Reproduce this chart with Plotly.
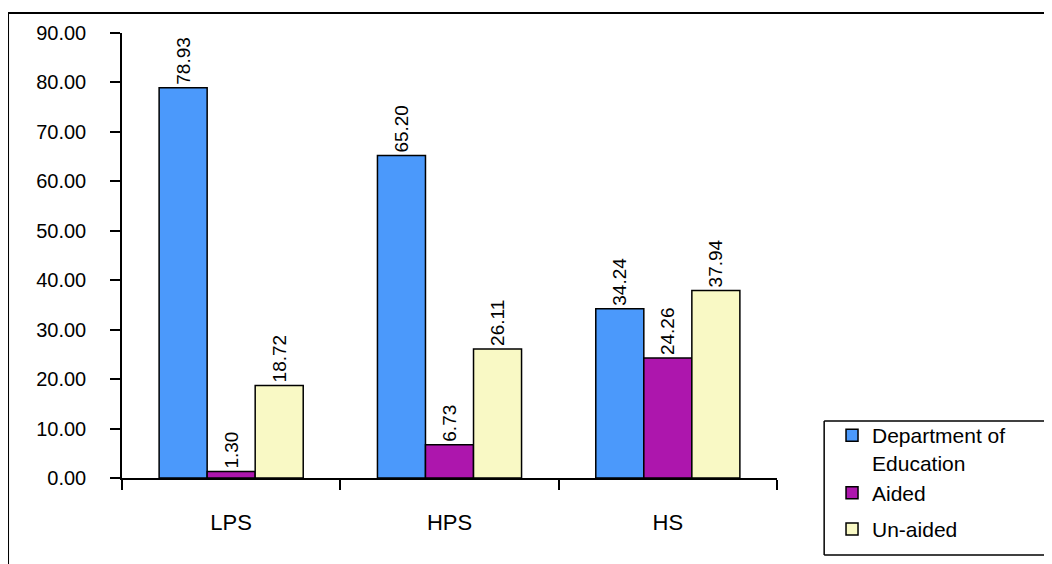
import plotly.graph_objects as go

categories = ["LPS", "HPS", "HS"]
dept_education = [78.93, 65.20, 34.24]
aided = [1.30, 6.73, 24.26]
unaided = [18.72, 26.11, 37.94]
y_ticks = [0, 10, 20, 30, 40, 50, 60, 70, 80, 90]

series = [
    ("Department of<br>Education", dept_education, "#4B99FB", "a"),
    ("Aided", aided, "#AD16AD", "a"),
    ("Un-aided", unaided, "#F9F9C5", "b"),
]

fig = go.Figure()
for name, vals, color, grp in series:
    fig.add_trace(go.Bar(
        x=categories, y=vals, name=name, legendgroup=grp,
        marker=dict(color=color, line=dict(color="black", width=1.5)),
        text=[f"{v:.2f}" for v in vals],
        textposition="outside", textangle=-90,
        textfont=dict(family="Liberation Sans, Arial", size=19, color="black"),
        cliponaxis=False,
    ))

box_line = dict(color="black", width=1.5)
fig.update_layout(
    width=1052, height=564,
    margin=dict(l=114, r=283, t=25, b=94, autoexpand=False),
    paper_bgcolor="white", plot_bgcolor="white",
    barmode="group", bargap=0.34, bargroupgap=0,
    font=dict(family="Liberation Sans, Arial", color="black"),
    showlegend=True,
    legend=dict(
        x=1.084, y=0.1415, xanchor="left", yanchor="top",
        borderwidth=0, bgcolor="rgba(0,0,0,0)",
        font=dict(size=21, family="Liberation Sans, Arial", color="black"),
        valign="top", tracegroupgap=6,
        groupclick="toggleitem",
    ),
    shapes=[
        dict(type="line", xref="paper", yref="paper",
             x0=-0.174, x1=1.6, y0=1.045, y1=1.045,
             line=dict(color="black", width=2), layer="below"),
        dict(type="line", xref="paper", yref="paper",
             x0=-0.174, x1=-0.174, y0=-0.4, y1=1.045,
             line=dict(color="black", width=2), layer="below"),
        dict(type="line", xref="paper", yref="paper",
             x0=1.072, x1=1.6, y0=0.128, y1=0.128,
             line=box_line, layer="below"),
        dict(type="line", xref="paper", yref="paper",
             x0=1.072, x1=1.6, y0=-0.173, y1=-0.173,
             line=box_line, layer="below"),
        dict(type="line", xref="paper", yref="paper",
             x0=1.072, x1=1.072, y0=-0.173, y1=0.128,
             line=box_line, layer="below"),
    ],
)

fig.update_yaxes(
    range=[0, 90], tickvals=y_ticks, tickformat=".2f",
    showline=True, linecolor="black", linewidth=1.5,
    ticks="outside", ticklen=10, tickcolor="black", tickwidth=1.5,
    showgrid=False, zeroline=False,
    tickfont=dict(size=20, family="Liberation Sans, Arial"),
    ticklabelstandoff=20,
)
fig.update_xaxes(
    showline=True, linecolor="black", linewidth=1.5,
    ticks="outside", ticklen=10, tickcolor="black", tickwidth=1.5,
    tickson="boundaries",
    tickfont=dict(size=22, family="Liberation Sans, Arial"),
    ticklabelstandoff=24,
)

fig.write_html("out.html")
